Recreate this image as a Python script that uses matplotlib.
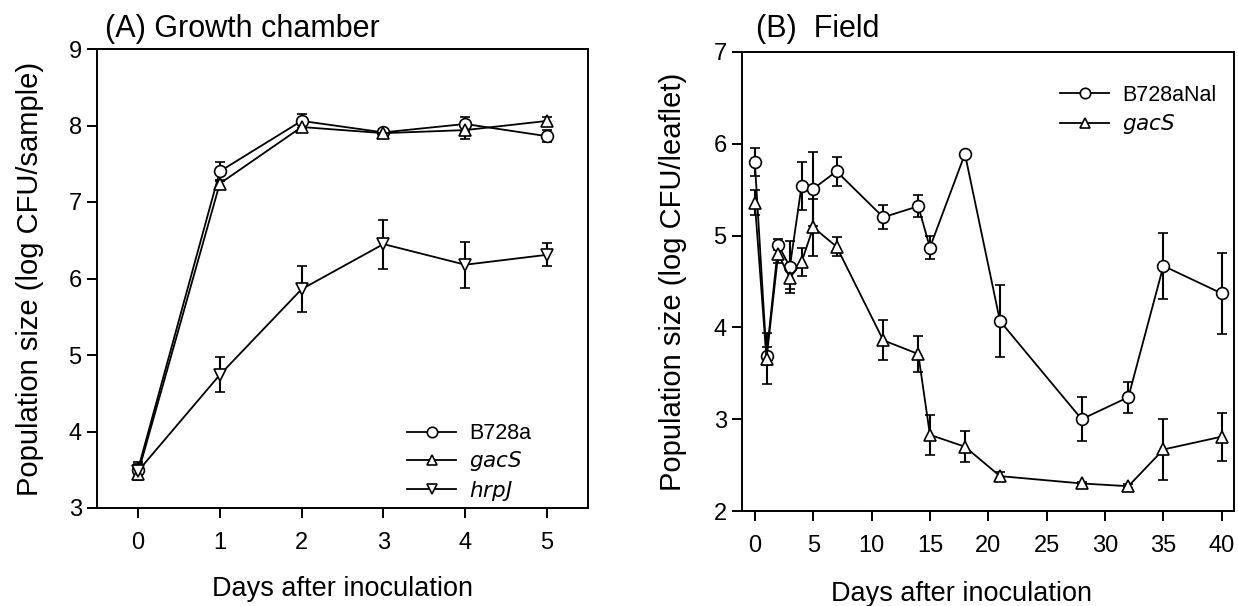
import matplotlib
matplotlib.use("Agg")
import matplotlib.pyplot as plt
from matplotlib.lines import Line2D

plt.rcParams['font.family'] = ['Liberation Sans', 'DejaVu Sans']

# ---------------- data ----------------
days_A = [0, 1, 2, 3, 4, 5]
b728a = [3.50, 7.40, 8.06, 7.91, 8.02, 7.86]
b728a_err = [0.10, 0.12, 0.09, 0.05, 0.09, 0.08]
gacS_A = [3.45, 7.24, 7.98, 7.90, 7.94, 8.06]
gacS_A_err = [0.08, 0.05, 0.05, 0.05, 0.12, 0.05]
hrpJ = [3.48, 4.74, 5.86, 6.45, 6.18, 6.31]
hrpJ_err = [0.10, 0.23, 0.30, 0.32, 0.30, 0.15]

days_B = [0, 1, 2, 3, 4, 5, 7, 11, 14, 15, 18, 21, 28, 32, 35, 40]
b728aNal = [5.80, 3.69, 4.90, 4.66, 5.54, 5.51, 5.70, 5.20, 5.32, 4.87, 5.89,
            4.07, 3.00, 3.24, 4.67, 4.37]
b728aNal_err = [0.15, 0.10, 0.06, 0.28, 0.26, 0.40, 0.16, 0.13, 0.12, 0.13, 0.02,
                0.39, 0.24, 0.17, 0.36, 0.44]
gacS_B = [5.36, 3.66, 4.80, 4.54, 4.71, 5.09, 4.88, 3.86, 3.71, 2.83, 2.70,
          2.38, 2.30, 2.27, 2.67, 2.81]
gacS_B_err = [0.14, 0.28, 0.10, 0.12, 0.15, 0.31, 0.10, 0.22, 0.20, 0.22, 0.17,
              0.04, 0.02, 0.02, 0.33, 0.26]

ticks_A_x = [0, 1, 2, 3, 4, 5]
ticks_A_y = [3, 4, 5, 6, 7, 8, 9]
ticks_B_x = [0, 5, 10, 15, 20, 25, 30, 35, 40]
ticks_B_y = [2, 3, 4, 5, 6, 7]

# ---------------- figure ----------------
W, H = 1238, 606
fig = plt.figure(figsize=(W / 100, H / 100), dpi=100)

def px_axes(left, top, right, bottom):
    return fig.add_axes([left / W, 1 - bottom / H, (right - left) / W, (bottom - top) / H])

axA = px_axes(97, 49, 588, 508)
axB = px_axes(742, 52, 1234, 511)

LW = 1.3
MS = 8.5
MEW = 1.2
CAP = 3.8
TICK_FS = 17
XLABEL_FS = 19.5
YLABEL_FS = 21
LEG_FS = 15.5

def series(ax, x, y, e, marker):
    ax.errorbar(x, y, yerr=e, color='black', lw=LW, elinewidth=1.5,
                capsize=CAP, capthick=1.5, marker=marker, ms=MS,
                mfc='white', mec='black', mew=MEW, zorder=3)

series(axA, days_A, b728a, b728a_err, 'o')
series(axA, days_A, gacS_A, gacS_A_err, '^')
series(axA, days_A, hrpJ, hrpJ_err, 'v')

series(axB, days_B, b728aNal, b728aNal_err, 'o')
series(axB, days_B, gacS_B, gacS_B_err, '^')

def style(ax, xlim, ylim, xt, yt):
    ax.set_xlim(*xlim)
    ax.set_ylim(*ylim)
    ax.set_xticks(xt)
    ax.set_yticks(yt)
    for s in ax.spines.values():
        s.set_linewidth(1.4)
    ax.tick_params(axis='x', direction='out', length=7, width=1.4,
                   pad=10, labelsize=TICK_FS)
    ax.tick_params(axis='y', direction='out', length=7, width=1.4,
                   pad=4, labelsize=TICK_FS)

style(axA, (-0.5, 5.5), (3, 9), ticks_A_x, ticks_A_y)
style(axB, (-1.1, 41.05), (2, 7), ticks_B_x, ticks_B_y)

axA.set_xlabel('Days after inoculation', fontsize=XLABEL_FS)
axA.set_ylabel('Population size (log CFU/sample)', fontsize=YLABEL_FS)
axA.xaxis.set_label_coords(0.5, -0.148)
axA.yaxis.set_label_coords(-0.108, 0.5)

axB.set_xlabel('Days after inoculation', fontsize=XLABEL_FS)
axB.set_ylabel('Population size (log CFU/leaflet)', fontsize=YLABEL_FS)
axB.xaxis.set_label_coords(0.447, -0.152)
axB.yaxis.set_label_coords(-0.112, 0.5)

fig.text(105 / W, 1 - 37 / H, '(A) Growth chamber', fontsize=22,
         ha='left', va='baseline')
fig.text(756 / W, 1 - 37 / H, '(B)  Field', fontsize=22,
         ha='left', va='baseline')

def handle(marker):
    return Line2D([], [], color='black', lw=LW, marker=marker, ms=7.5,
                  mfc='white', mec='black', mew=MEW)

legA = axA.legend([handle('o'), handle('^'), handle('v')],
                  ['B728a', '$\\it{gacS}$', '$\\it{hrpJ}$'],
                  loc='upper left', bbox_to_anchor=(0.631, 0.185),
                  frameon=False, fontsize=LEG_FS, handlelength=2.3,
                  handletextpad=0.6, labelspacing=0.25,
                  borderpad=0, borderaxespad=0)
legB = axB.legend([handle('o'), handle('^')],
                  ['B728aNal', '$\\it{gacS}$'],
                  loc='upper left', bbox_to_anchor=(0.646, 0.929),
                  frameon=False, fontsize=LEG_FS, handlelength=2.3,
                  handletextpad=0.6, labelspacing=0.3,
                  borderpad=0, borderaxespad=0)

fig.savefig('out.png', dpi=100)
